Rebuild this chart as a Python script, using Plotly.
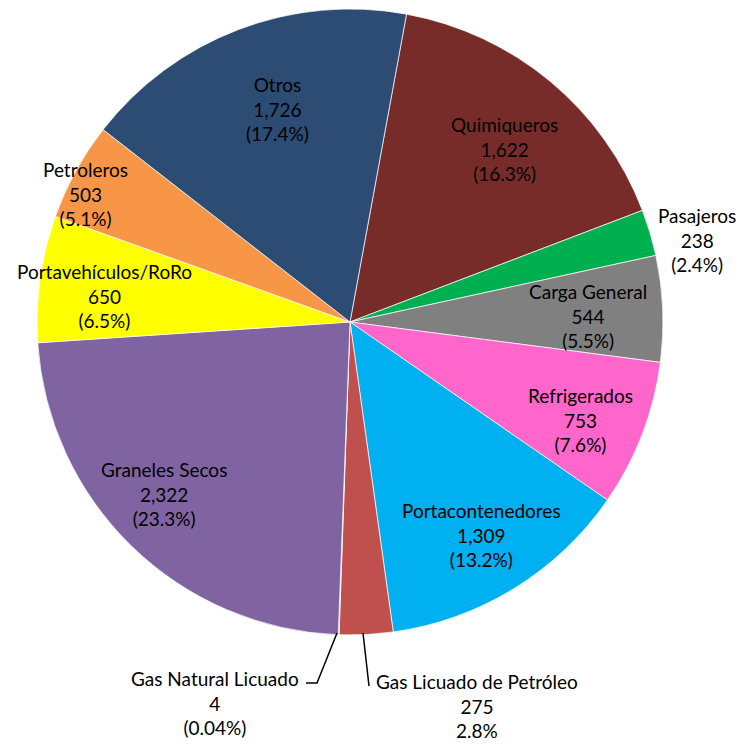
import math
import plotly.graph_objects as go

labels = ["Quimiqueros", "Pasajeros", "Carga General", "Refrigerados", "Portacontenedores",
          "Gas Licuado de Petróleo", "Gas Natural Licuado", "Graneles Secos",
          "Portavehículos/RoRo", "Petroleros", "Otros"]
values = [1622, 238, 544, 753, 1309, 275, 4, 2322, 650, 503, 1726]
pct_text = ["(16.3%)", "(2.4%)", "(5.5%)", "(7.6%)", "(13.2%)", "2.8%", "(0.04%)",
            "(23.3%)", "(6.5%)", "(5.1%)", "(17.4%)"]

# styles
colors = ["#772C2A", "#00B050", "#808080", "#FF66CC", "#00B0F0", "#C0504D", "#9BBB59",
          "#8064A2", "#FFFF00", "#F79646", "#2C4C74"]
W, H = 742, 744
CX, CY, R = 350, 322, 313
ROT = 10.4
# radial fraction for inside labels (None -> outside, placed explicitly)
rfrac = [0.74, None, 0.76, 0.80, 0.80, None, None, 0.81, 0.79, 0.94, 0.72]
angoff = [2, 0, 1, 2, 0, 0, 0, 3, -2, -3, 2]
outside_pos = {1: (697, 240), 5: (477, 706), 6: (215, 703)}
FONT = "Lato"
FS = 19

fig = go.Figure(go.Pie(
    labels=labels, values=values, sort=False, direction="clockwise", rotation=ROT,
    marker=dict(colors=colors, line=dict(color="rgba(255,255,255,0.7)", width=1)),
    textinfo="none", hoverinfo="label+value+percent", showlegend=False,
    domain=dict(x=[(CX - R) / W, (CX + R) / W], y=[(H - CY - R) / H, (H - CY + R) / H]),
))

total = sum(values)
cum = 0
annotations = []
for i, v in enumerate(values):
    a0 = ROT + 360 * cum / total
    cum += v
    a1 = ROT + 360 * cum / total
    mid = math.radians((a0 + a1) / 2 + angoff[i])
    txt = f"{labels[i]}<br>{v:,}<br>{pct_text[i]}"
    if rfrac[i] is not None:
        px = CX + rfrac[i] * R * math.sin(mid)
        py = CY - rfrac[i] * R * math.cos(mid)
    else:
        px, py = outside_pos[i]
    annotations.append(dict(x=px / W, y=1 - py / H, xref="paper", yref="paper", text=txt,
                            showarrow=False, align="center", xanchor="center", yanchor="middle",
                            font=dict(family=FONT, size=FS, color="#000000")))

# leader lines
def P(x, y):
    return x / W, 1 - y / H

shapes = []
for pts in [[(337, 633), (317, 683), (306, 683)], [(363, 633), (369, 686)]]:
    path = "M " + " L ".join(f"{P(*p)[0]},{P(*p)[1]}" for p in pts)
    shapes.append(dict(type="path", path=path, xref="paper", yref="paper",
                       line=dict(color="#000000", width=1.5)))

fig.update_layout(width=W, height=H, margin=dict(l=0, r=0, t=0, b=0),
                  paper_bgcolor="white", plot_bgcolor="white",
                  annotations=annotations, shapes=shapes)
fig.write_html("out.html", config={"displayModeBar": False},
               post_script="document.body.style.margin='0';document.body.style.overflow='hidden';")
